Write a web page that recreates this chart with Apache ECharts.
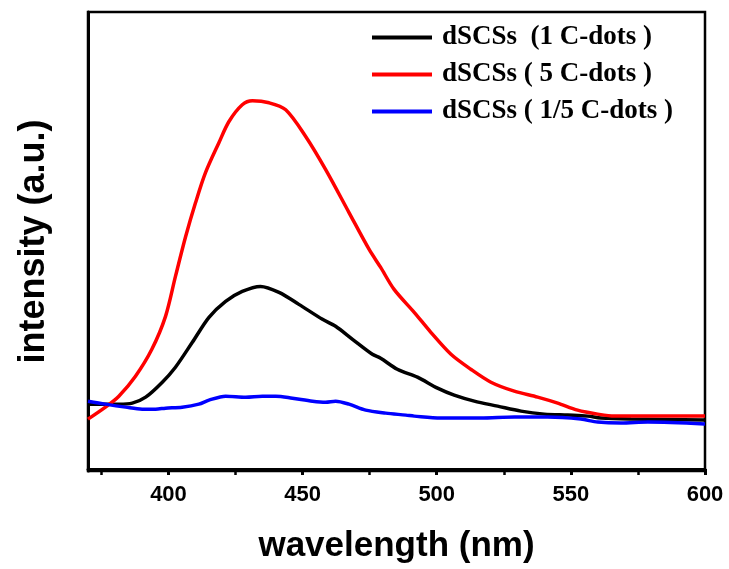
<!DOCTYPE html>
<html>
<head>
<meta charset="utf-8">
<script src="https://cdn.jsdelivr.net/npm/echarts@6/dist/echarts.min.js"></script>
<style>html,body{margin:0;padding:0;background:#fff}#c{width:729px;height:569px}</style>
</head>
<body>
<div id="c"></div>
<script>
// Series names
const seriesNames = ['dSCSs  (1 C-dots )', 'dSCSs ( 5 C-dots )', 'dSCSs ( 1/5 C-dots )'];
// x ticks
const xTicks = [400, 450, 500, 550, 600];
const xMinorTicks = [375, 425, 475, 525, 575];

// Black: 1 C-dots
const blackWl = [370, 381.5, 386.5, 391.5, 397.7, 402.6, 408.9, 415.1, 421.3, 427.5, 434.3, 441.2, 448.6, 457.4, 462.3, 468.6, 476, 479.1, 485.3, 492.8, 500.3, 506.5, 514, 522.7, 531.4, 540.1, 548.8, 556.3, 561.2, 572.4, 600];
const blackInt = [65, 65, 66, 72, 87, 102, 127, 152, 168, 178, 183, 177, 165, 150, 143, 130, 115, 111, 100, 92, 81, 74, 68, 63, 58, 55, 54, 53, 51, 50, 49];

// Red: 5 C-dots
const redWl = [370, 376.5, 381.5, 387.7, 393.8, 398.9, 402.6, 406.4, 410.1, 413.8, 418.8, 422.5, 427.5, 431.3, 437.5, 443.7, 451.2, 458.6, 467.3, 474.8, 479.1, 484.1, 491.6, 497.8, 505.3, 512.7, 520.2, 528.9, 537.6, 545.1, 552.5, 560, 566.2, 578.7, 600];
const redInt = [50, 62, 73, 93, 120, 153, 193, 233, 267, 297, 327, 348, 365, 369, 367, 360, 333, 300, 257, 220, 202, 180, 157, 137, 115, 100, 87, 78, 72, 66, 59, 55, 53, 53, 53];

// Blue: 1/5 C-dots
const blueWl = [370, 376.5, 384, 390.2, 395.2, 398.9, 405.1, 411.3, 415.1, 421.3, 428.8, 435, 440, 446.2, 453.7, 458.6, 462.3, 467.3, 473.5, 481, 488.5, 491.6, 501.5, 516.4, 528.9, 541.3, 553.7, 560, 568.7, 578.7, 600];
const blueInt = [68, 65, 62, 60, 60, 61, 62, 65, 69, 73, 72, 73, 73, 71, 68, 67, 68, 65, 59, 56, 54, 53, 51, 51, 52, 52, 50, 47, 46, 47, 45];

const zip = (a, b) => a.map((v, i) => [v, b[i]]);
const colors = ['#000000', '#ff0000', '#0000ff'];
const datasets = [zip(blackWl, blackInt), zip(redWl, redInt), zip(blueWl, blueInt)];

const chart = echarts.init(document.getElementById('c'), null, {renderer: 'canvas'});
chart.setOption({
  animation: false,
  backgroundColor: '#fff',
  grid: {left: 88, right: 24, top: 12, bottom: 97, show: true, borderColor: '#000', borderWidth: 2.5, containLabel: false},
  legend: {
    orient: 'vertical',
    left: 372,
    top: 24,
    padding: 0,
    icon: 'rect',
    itemWidth: 60,
    itemHeight: 4,
    itemGap: 10,
    data: seriesNames,
    textStyle: {fontFamily: 'Liberation Serif', fontWeight: 'bold', fontSize: 27, color: '#000', lineHeight: 26, padding: [0, 0, 0, 5]}
  },
  xAxis: [{
    type: 'value',
    min: 370, max: 600,
    position: 'bottom',
    name: 'wavelength (nm)',
    nameLocation: 'middle',
    nameGap: 58,
    nameTextStyle: {fontFamily: 'Liberation Sans', fontWeight: 'bold', fontSize: 35, color: '#000'},
    axisLine: {show: true, lineStyle: {color: '#000', width: 3}},
    axisTick: {show: true, inside: false, length: 6, lineStyle: {color: '#000', width: 3}, customValues: xTicks},
    axisLabel: {show: true, customValues: xTicks, margin: 13, fontFamily: 'Liberation Sans', fontWeight: 'bold', fontSize: 22, color: '#000'},
    splitLine: {show: false}
  }, {
    type: 'value',
    min: 370, max: 600,
    position: 'bottom',
    gridIndex: 0,
    axisLine: {show: false},
    axisTick: {show: true, inside: false, length: 4, lineStyle: {color: '#000', width: 2.5}, customValues: xMinorTicks},
    axisLabel: {show: false},
    splitLine: {show: false}
  }],
  yAxis: {
    type: 'value',
    min: -2, max: 458,
    name: 'intensity (a.u.)',
    nameLocation: 'middle',
    nameGap: 36,
    nameTextStyle: {fontFamily: 'Liberation Sans', fontWeight: 'bold', fontSize: 36, color: '#000'},
    axisLine: {show: true, lineStyle: {color: '#000', width: 3}},
    axisTick: {show: false},
    axisLabel: {show: false},
    splitLine: {show: false}
  },
  series: seriesNames.map((n, i) => ({
    name: n,
    type: 'line',
    xAxisIndex: 0,
    data: datasets[i],
    showSymbol: false,
    symbol: 'none',
    smooth: 0.3,
    color: colors[i],
    lineStyle: {color: colors[i], width: 3.5},
    z: 2 + i
  }))
});
</script>
</body>
</html>
